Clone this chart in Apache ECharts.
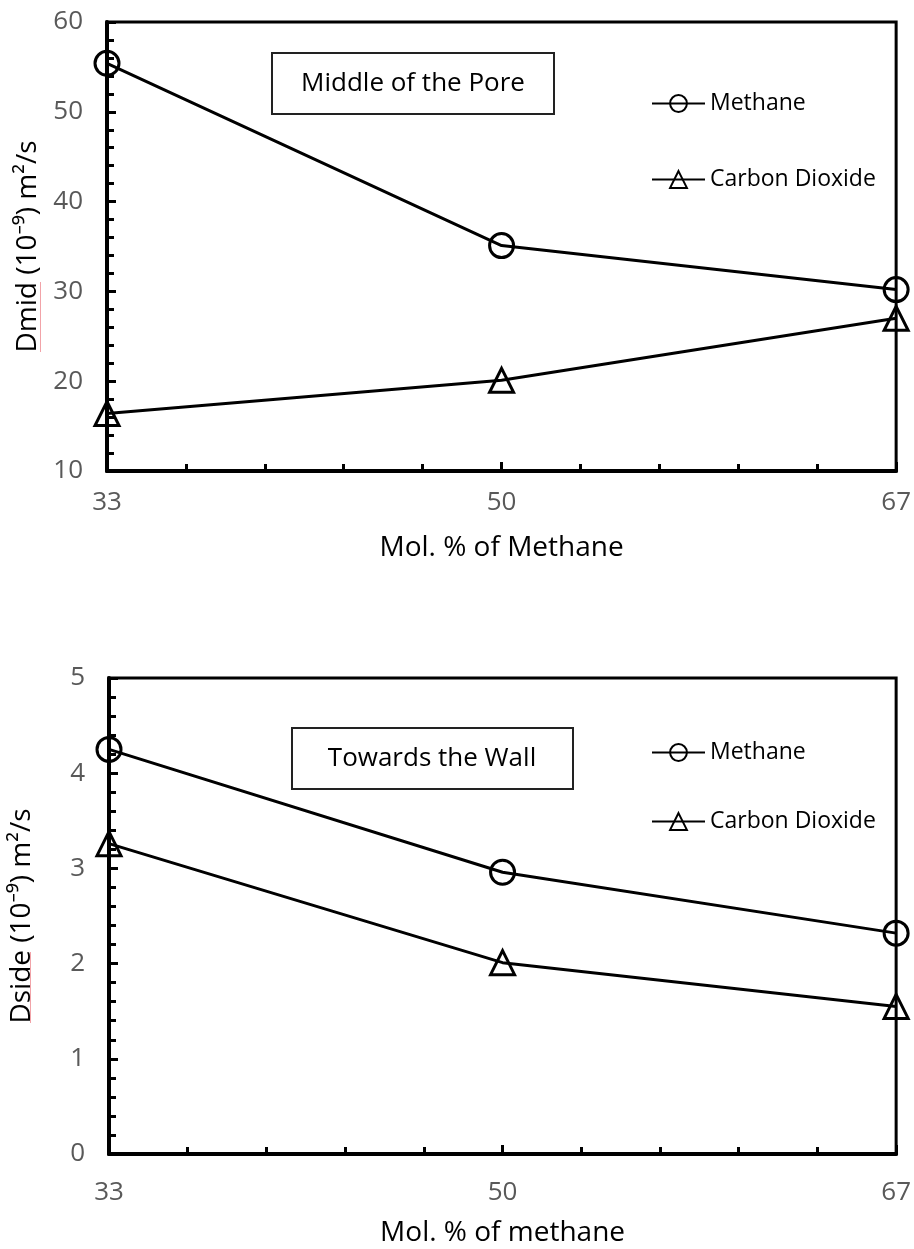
<!DOCTYPE html>
<html>
<head>
<meta charset="utf-8">
<title>Diffusion coefficients vs methane fraction</title>
<script src="https://cdn.jsdelivr.net/npm/echarts@6/dist/echarts.min.js"></script>
<style>
  html, body { margin: 0; padding: 0; background: #fff; }
  #chart { width: 914px; height: 1249px; }
</style>
</head>
<body>
<div id="chart"></div>
<script>
// Mole percent of methane in the mixture
const molPct = [33, 50, 67];
// Diffusion coefficient in the middle of the pore (1e-9 m^2/s)
const midMethane = [55.4, 35.1, 30.2];
const midCO2 = [16.4, 20.1, 27.0];
// Diffusion coefficient towards the wall (1e-9 m^2/s)
const sideMethane = [4.25, 2.96, 2.32];
const sideCO2 = [3.26, 2.01, 1.55];

const seriesNames = ['Methane', 'Carbon Dioxide'];
const panelTitles = ['Middle of the Pore', 'Towards the Wall'];
const yTitles = ['Dmid (10⁻⁹) m²/s', 'Dside (10⁻⁹) m²/s'];
const xTitles = ['Mol. % of Methane', 'Mol. % of methane'];

const FONT = '"Open Sans", "Noto Sans", sans-serif';
const pairs = vals => molPct.map((x, i) => [x, vals[i]]);

function xAxisFor(idx, labelMargin, nameGap) {
  return {
    type: 'value', gridIndex: idx, min: 33, max: 67, interval: 17,
    axisLine: { show: true, onZero: false, lineStyle: { color: '#000', width: 4 } },
    axisTick: { show: true, inside: true, length: 9, lineStyle: { color: '#000', width: 3 } },
    minorTick: { show: true, splitNumber: 5, length: 7, lineStyle: { color: '#000', width: 3 } },
    splitLine: { show: false },
    axisLabel: { color: '#595959', fontSize: 26, fontFamily: FONT, margin: labelMargin },
    name: xTitles[idx], nameLocation: 'middle', nameGap: nameGap,
    nameTextStyle: { color: '#000', fontSize: 28, fontFamily: FONT }
  };
}

function yAxisFor(idx, min, max, interval, nameGap) {
  return {
    type: 'value', gridIndex: idx, min: min, max: max, interval: interval,
    axisLine: { show: true, onZero: false, lineStyle: { color: '#000', width: 4 } },
    axisTick: { show: true, inside: true, length: 9, lineStyle: { color: '#000', width: 3 } },
    minorTick: { show: true, splitNumber: 5, length: 7, lineStyle: { color: '#000', width: 3 } },
    splitLine: { show: false },
    axisLabel: { color: '#595959', fontSize: 26, fontFamily: FONT, margin: 24 },
    name: yTitles[idx], nameLocation: 'middle', nameGap: nameGap, nameRotate: 90,
    nameTextStyle: { color: '#000', fontSize: 28, fontFamily: FONT }
  };
}

function lineSeries(name, symbol, idx, vals) {
  return {
    name: name, type: 'line', xAxisIndex: idx, yAxisIndex: idx,
    data: pairs(vals),
    symbol: symbol, symbolSize: 24,
    itemStyle: { color: 'rgba(0,0,0,0)', borderColor: '#000', borderWidth: 3 },
    lineStyle: { color: '#000', width: 3 },
    emphasis: { disabled: true },
    z: 3
  };
}

function legendFor(top, gap) {
  return {
    orient: 'vertical', left: 651, top: top, itemGap: gap, padding: 0,
    itemWidth: 53, itemHeight: 21,
    textStyle: { color: '#000', fontSize: 23, fontFamily: FONT },
    data: seriesNames, selectedMode: false
  };
}

const chart = echarts.init(document.getElementById('chart'), null, { renderer: 'canvas' });

chart.setOption({
  backgroundColor: '#fff',
  animation: false,
  grid: [
    { left: 107, right: 16, top: 22, height: 449, show: true, borderColor: '#000', borderWidth: 3 },
    { left: 107, right: 16, top: 678, height: 476, show: true, borderColor: '#000', borderWidth: 3 }
  ],
  xAxis: [xAxisFor(0, 19, 63), xAxisFor(1, 26, 65)],
  yAxis: [yAxisFor(0, 10, 60, 10, 63), yAxisFor(1, 0, 5, 1, 73)],
  legend: [legendFor(92, 53), legendFor(741, 46)],
  series: [
    lineSeries(seriesNames[0], 'circle', 0, midMethane),
    lineSeries(seriesNames[1], 'triangle', 0, midCO2),
    lineSeries(seriesNames[0], 'circle', 1, sideMethane),
    lineSeries(seriesNames[1], 'triangle', 1, sideCO2)
  ],
  graphic: [
    // panel caption boxes
    { type: 'rect', shape: { x: 272, y: 53, width: 282, height: 61 },
      style: { fill: '#fff', stroke: '#222', lineWidth: 2 }, z: 10 },
    { type: 'text', x: 413, y: 84,
      style: { text: panelTitles[0], fill: '#000', font: '26px ' + FONT, align: 'center', verticalAlign: 'middle' }, z: 11 },
    { type: 'rect', shape: { x: 292, y: 728, width: 281, height: 61 },
      style: { fill: '#fff', stroke: '#222', lineWidth: 2 }, z: 10 },
    { type: 'text', x: 432, y: 759,
      style: { text: panelTitles[1], fill: '#000', font: '26px ' + FONT, align: 'center', verticalAlign: 'middle' }, z: 11 },
    // spell-check underline beneath the symbol names
    { type: 'line', shape: { x1: 40.5, y1: 282, x2: 40.5, y2: 352 },
      style: { stroke: '#f2a3a8', lineWidth: 1 }, z: 11 },
    { type: 'line', shape: { x1: 30.5, y1: 952, x2: 30.5, y2: 1023 },
      style: { stroke: '#f2a3a8', lineWidth: 1 }, z: 11 }
  ]
});
</script>
</body>
</html>
